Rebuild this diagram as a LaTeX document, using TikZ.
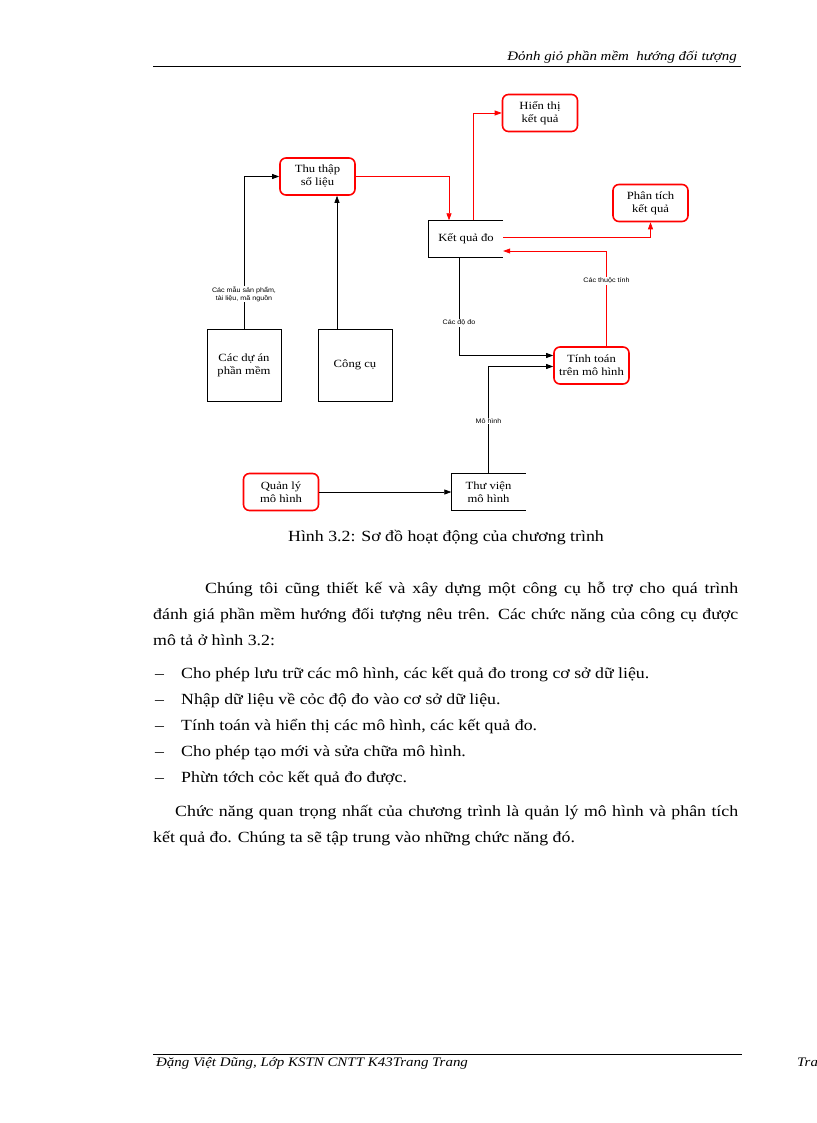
\documentclass[tikz,border=0pt]{standalone}
\usepackage{fontspec}
\setmainfont[FakeStretch=1.15]{Liberation Serif}
\newfontfamily\lab[FakeStretch=1.1]{Liberation Sans}
\usetikzlibrary{arrows.meta}
\begin{document}
\begin{tikzpicture}[x=1pt,y=-1pt,
  redbox/.style={draw=red, line width=1.6pt, rounded corners=6pt, minimum width=75pt, minimum height=37pt, align=center, inner sep=1pt, font=\fontsize{11}{13}\selectfont},
  blackbox/.style={draw, line width=0.8pt, minimum width=74pt, minimum height=72pt, align=center, inner sep=1pt, font=\fontsize{11}{13}\selectfont},
  store/.style={minimum width=74pt, minimum height=37pt, align=center, inner sep=1pt, font=\fontsize{11}{13}\selectfont},
  storeline/.style={line width=0.8pt},
  conn/.style={line width=0.7pt, -{Triangle[length=7pt,width=5pt]}},
  redconn/.style={conn, draw=red, -{Triangle[length=7pt,width=5pt,fill=red]}},
  lbl/.style={font=\lab\fontsize{6.5}{8}\selectfont, fill=white, inner sep=1pt, align=center},
  body/.style={anchor=base west, inner sep=0pt, font=\fontsize{15.5}{18}\selectfont},
  hdr/.style={inner sep=0pt, font=\itshape\fontsize{13}{15}\selectfont},
  rule/.style={line width=0.6pt}
]
\useasboundingbox (0,0) rectangle (816,1123);
\fill[white] (0,0) rectangle (816,1123);

% header / footer
\node[hdr, anchor=base east] (head) at (737,61) {Đỏnh giỏ phần mềm\ \ hướng đối tượng};
\coordinate (hl) at (153,66);
\coordinate (hr) at (741,66);
\draw[rule] (hl) -- (hr);
\coordinate (fl) at (153,1054);
\coordinate (fr) at (742,1054);
\draw[rule] (fl) -- (fr);
\node[hdr, anchor=base west] (foot) at (156,1066) {Đặng Việt Dũng, Lớp KSTN CNTT K43Trang Trang};
\node[hdr, anchor=base west] (pg) at (797,1066) {Trang};

% diagram nodes
\node[redbox] (hien) at (540,113) {Hiển thị\\kết quả};
\node[redbox] (thu) at (317.5,176.5) {Thu thập\\số liệu};
\node[redbox] (phan) at (650.5,203) {Phân tích\\kết quả};
\node[store] (kq) at (466,239) {Kết quả đo};
\draw[storeline] (kq.north east) -- (kq.north west) -- (kq.south west) -- (kq.south east);
\node[redbox] (tinh) at (591.5,365.5) {Tính toán\\trên mô hình};
\node[blackbox] (duan) at (244,365) {Các dự án\\phần mềm};
\node[blackbox] (cong) at (355,365) {Công cụ};
\node[redbox] (ql) at (281,492) {Quản lý\\mô hình};
\node[store] (tv) at (488.5,492) {Thư viện\\mô hình};
\draw[storeline] (tv.north east) -- (tv.north west) -- (tv.south west) -- (tv.south east);

% connectors
\draw[conn] (duan.north) |- (thu.west);
\node[lbl] (l1) at (244,294) {Các mẫu sản phẩm,\\tài liệu, mã nguồn};
\draw[conn] ([xshift=-18pt]cong.north) -- ([xshift=-18pt]cong.north |- thu.south);
\draw[redconn] (thu.east) -| ([xshift=-17pt]kq.north);
\draw[redconn] ([xshift=7pt]kq.north) |- (hien.west);
\draw[redconn] ([yshift=2pt]kq.east) -| (phan.south);
\draw[redconn] ([xshift=15pt]tinh.north) |- ([yshift=-12pt]kq.east);
\node[lbl] (l2) at (606.5,281) {Các thuộc tính};
\draw[conn] ([xshift=-7pt]kq.south) |- ([yshift=10pt]tinh.west);
\node[lbl] (l3) at (459,323) {Các độ đo};
\draw[conn] (tv.north) |- ([yshift=-1pt]tinh.west);
\node[lbl] (l4) at (488.5,421) {Mô hình};
\draw[conn] (ql.east) -- (tv.west);

% caption
\node[anchor=base, inner sep=0pt, font=\fontsize{15.5}{18}\selectfont] (cap) at (446,541) {Hình 3.2: Sơ đồ hoạt động của chương trình};

% body text
\node[body] (p1) at (205,593) {\makebox[533pt][s]{Chúng tôi cũng thiết kế và xây dựng một công cụ hỗ trợ cho quá trình}};
\node[body] (p2) at (153,619) {\makebox[585pt][s]{đánh giá phần mềm hướng đối tượng nêu trên. Các chức năng của công cụ được}};
\node[body] (p3) at (153,645) {mô tả ở hình 3.2:};
\node[body] (d1) at (155,678) {–};
\node[body] (b1) at (181,678) {Cho phép lưu trữ các mô hình, các kết quả đo trong cơ sở dữ liệu.};
\node[body] (d2) at (155,704) {–};
\node[body] (b2) at (181,704) {Nhập dữ liệu về cỏc độ đo vào cơ sở dữ liệu.};
\node[body] (d3) at (155,730) {–};
\node[body] (b3) at (181,730) {Tính toán và hiển thị các mô hình, các kết quả đo.};
\node[body] (d4) at (155,756) {–};
\node[body] (b4) at (181,756) {Cho phép tạo mới và sửa chữa mô hình.};
\node[body] (d5) at (155,782) {–};
\node[body] (b5) at (181,782) {Phừn tớch cỏc kết quả đo được.};
\node[body] (q1) at (175,816) {\makebox[563pt][s]{Chức năng quan trọng nhất của chương trình là quản lý mô hình và phân tích}};
\node[body] (q2) at (153,842) {kết quả đo. Chúng ta sẽ tập trung vào những chức năng đó.};
\end{tikzpicture}
\end{document}
